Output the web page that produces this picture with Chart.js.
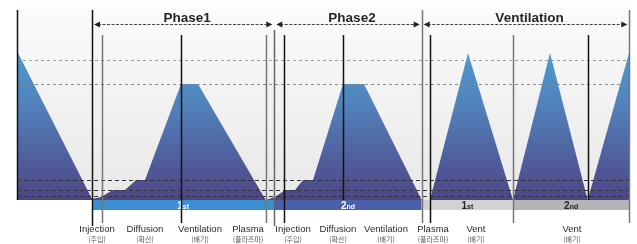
<!DOCTYPE html>
<html>
<head>
<meta charset="utf-8">
<script src="https://cdn.jsdelivr.net/npm/chart.js@4/dist/chart.umd.min.js"></script>
<style>
  html, body { margin: 0; padding: 0; background: #ffffff; }
  #wrap { width: 637px; height: 244px; }
</style>
</head>
<body>
<div id="wrap"><canvas id="c" width="637" height="244"></canvas></div>
<script>
// ---- data (time axis in arbitrary units, level in arbitrary units) ----
const timeValues  = [0, 75, 84, 96, 108, 119, 128, 164, 181, 248.7, 258, 268, 278, 286, 296, 326, 347, 404.7, 413, 451, 496, 533, 570.7, 612.3];
const levelValues = [149, 1, 3, 10, 10, 20, 20, 116, 116, 0, 3, 10, 10, 20, 20, 116, 116, 0, 0, 147, 0, 147, 0, 148];

const guideLevels = [140, 116, 20, 10, 4];

const phaseNames  = ['Phase1', 'Phase2', 'Ventilation'];
const phaseBounds = [75, 257.3, 404.7, 612.3];

const bandNumbers = ['1', '2', '1', '2'];
const bandSuffix  = ['st', 'nd', 'st', 'nd'];
const bandBounds  = [75, 257.3, 404.7, 496, 612.3];

const markerTimes = [0, 75, 84.5, 164.3, 248.7, 257.3, 267.3, 326, 404.7, 413, 496.3, 570.7, 612.3];

const stepNames = ['Injection', 'Diffusion', 'Ventilation', 'Plasma', 'Injection', 'Diffusion', 'Ventilation', 'Plasma', 'Vent', 'Vent'];
const stepKo    = ['(주입)', '(확산)', '(배기)', '(플라즈마)', '(주입)', '(확산)', '(배기)', '(플라즈마)', '(배기)', '(배기)'];
const stepTimes = [80, 128, 183, 231, 276, 321, 369, 416, 459, 555];

// ---- styles (separate from data) ----
const markerStyle = [
  { c: '#111', top: 10, bot: 200 },
  { c: '#111', top: 10, bot: 226 },
  { c: '#777', top: 35, bot: 223 },
  { c: '#111', top: 35, bot: 223 },
  { c: '#777', top: 35, bot: 223 },
  { c: '#666', top: 30, bot: 226 },
  { c: '#111', top: 35, bot: 223 },
  { c: '#111', top: 35, bot: 200 },
  { c: '#777', top: 10, bot: 223 },
  { c: '#111', top: 35, bot: 223 },
  { c: '#777', top: 35, bot: 223 },
  { c: '#111', top: 35, bot: 200 },
  { c: '#777', top: 10, bot: 223 }
];
const guideStyle = ['#9a9a9a', '#8a8a8a', '#333', '#333', '#333'];
const bandFill = ['#3a8fd0', '#4b60aa', '#d2d2d2', '#b5b5b5'];
const bandText = ['#fff', '#fff', '#222', '#222'];

const points = timeValues.map((t, i) => ({ x: t, y: levelValues[i] }));

const decor = {
  id: 'decor',
  beforeDatasetsDraw(chart) {
    const { ctx, chartArea: a } = chart;
    const g = ctx.createLinearGradient(0, a.top, 0, a.bottom);
    g.addColorStop(0, '#fbfbfb');
    g.addColorStop(1, '#e8e8e8');
    ctx.save();
    ctx.fillStyle = g;
    ctx.fillRect(a.left, a.top, a.right - a.left, a.bottom - a.top);
    ctx.restore();
  },
  afterDatasetsDraw(chart) {
    const { ctx, chartArea: a, scales: { x, y } } = chart;
    ctx.save();
    // guide dashed lines
    guideLevels.forEach((v, i) => {
      const py = Math.round(y.getPixelForValue(v)) + 0.5;
      ctx.strokeStyle = guideStyle[i];
      ctx.lineWidth = 1;
      ctx.setLineDash(i < 2 ? [3, 3] : [4, 3]);
      ctx.beginPath();
      ctx.moveTo(a.left, py);
      ctx.lineTo(a.right, py);
      ctx.stroke();
    });
    ctx.setLineDash([]);
    // bands
    for (let i = 0; i < bandNumbers.length; i++) {
      const x0 = x.getPixelForValue(bandBounds[i]);
      const x1 = x.getPixelForValue(bandBounds[i + 1]);
      ctx.fillStyle = bandFill[i];
      ctx.fillRect(x0, a.bottom, x1 - x0, 10);
      ctx.fillStyle = bandText[i];
      ctx.font = 'bold 10px "Liberation Sans", Arial, sans-serif';
      const w1 = ctx.measureText(bandNumbers[i]).width;
      ctx.font = 'bold 7px "Liberation Sans", Arial, sans-serif';
      const w2 = ctx.measureText(bandSuffix[i]).width;
      const cx = (x0 + x1) / 2 - (w1 + w2) / 2;
      ctx.textBaseline = 'alphabetic';
      ctx.textAlign = 'left';
      ctx.font = 'bold 10px "Liberation Sans", Arial, sans-serif';
      ctx.fillText(bandNumbers[i], cx, a.bottom + 8.5);
      ctx.font = 'bold 7px "Liberation Sans", Arial, sans-serif';
      ctx.fillText(bandSuffix[i], cx + w1, a.bottom + 9);
    }
    // vertical markers
    markerTimes.forEach((t, i) => {
      const px = Math.round(x.getPixelForValue(t)) + 0.5;
      const s = markerStyle[i];
      ctx.strokeStyle = s.c;
      ctx.lineWidth = 1.5;
      ctx.beginPath();
      ctx.moveTo(px, s.top);
      ctx.lineTo(px, s.bot);
      ctx.stroke();
    });
    // phase arrows
    const ay = 24.5;
    for (let i = 0; i < phaseNames.length; i++) {
      const x0 = x.getPixelForValue(phaseBounds[i]) + 2;
      const x1 = x.getPixelForValue(phaseBounds[i + 1]) - 2;
      ctx.strokeStyle = '#444';
      ctx.lineWidth = 1;
      ctx.setLineDash([3, 1.5]);
      ctx.beginPath();
      ctx.moveTo(x0 + 4, ay);
      ctx.lineTo(x1 - 4, ay);
      ctx.stroke();
      ctx.setLineDash([]);
      ctx.fillStyle = '#222';
      ctx.beginPath();
      ctx.moveTo(x0, ay); ctx.lineTo(x0 + 6, ay - 3); ctx.lineTo(x0 + 6, ay + 3); ctx.closePath();
      ctx.fill();
      ctx.beginPath();
      ctx.moveTo(x1, ay); ctx.lineTo(x1 - 6, ay - 3); ctx.lineTo(x1 - 6, ay + 3); ctx.closePath();
      ctx.fill();
      ctx.fillStyle = '#262626';
      ctx.font = 'bold 13.5px "Liberation Sans", Arial, sans-serif';
      ctx.textAlign = 'center';
      ctx.textBaseline = 'alphabetic';
      ctx.fillText(phaseNames[i], (x0 + x1) / 2 + 4, 22);
    }
    // step labels
    stepNames.forEach((n, i) => {
      const px = x.getPixelForValue(stepTimes[i]);
      ctx.textAlign = 'center';
      ctx.textBaseline = 'alphabetic';
      ctx.fillStyle = '#2a2a2a';
      ctx.font = '9.5px "Liberation Sans", Arial, sans-serif';
      ctx.fillText(n, px, 232);
      ctx.fillStyle = '#555';
      ctx.font = '7px "Noto Sans CJK KR", sans-serif';
      ctx.fillText(stepKo[i], px, 242);
    });
    ctx.restore();
  }
};

new Chart(document.getElementById('c'), {
  type: 'line',
  data: {
    datasets: [{
      data: points,
      borderWidth: 0,
      pointRadius: 0,
      tension: 0,
      fill: 'origin',
      backgroundColor(context) {
        const a = context.chart.chartArea;
        if (!a) return '#4a6fb0';
        const g = context.chart.ctx.createLinearGradient(0, a.top, 0, a.bottom);
        g.addColorStop(0, '#46b0e2');
        g.addColorStop(0.5, '#5282bb');
        g.addColorStop(1, '#4d4586');
        return g;
      }
    }]
  },
  options: {
    responsive: false,
    animation: false,
    layout: { padding: { left: 17, right: 7, top: 7, bottom: 44 } },
    plugins: { legend: { display: false }, tooltip: { enabled: false } },
    scales: {
      x: { type: 'linear', min: 0, max: 613, display: false },
      y: { min: 0, max: 193, display: false }
    }
  },
  plugins: [decor]
});
</script>
</body>
</html>
